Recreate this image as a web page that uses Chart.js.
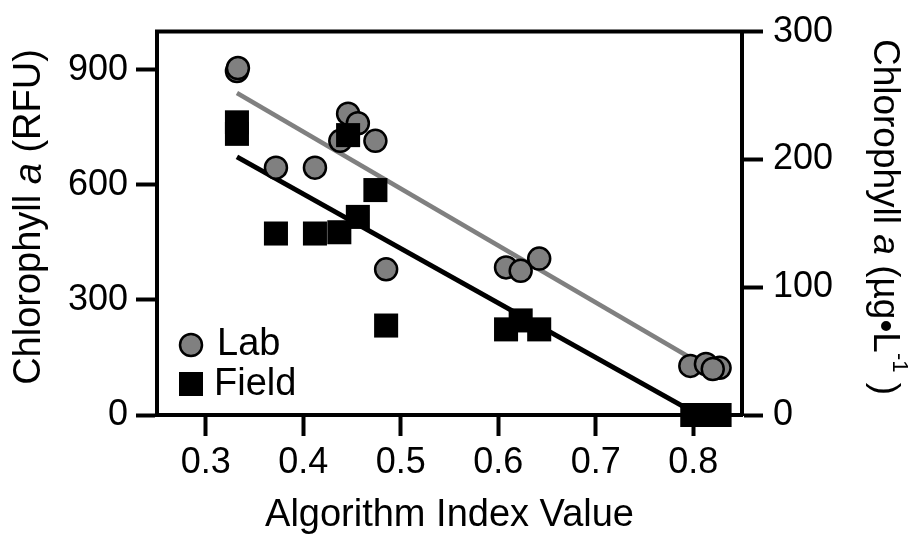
<!DOCTYPE html>
<html>
<head>
<meta charset="utf-8">
<script src="https://cdn.jsdelivr.net/npm/chart.js@4.4.1/dist/chart.umd.min.js"></script>
<style>
  html, body { margin: 0; padding: 0; background: #fff; }
  #wrap { width: 912px; height: 543px; }
</style>
</head>
<body>
<div id="wrap"><canvas id="chart"></canvas></div>
<script>
const FONT = "'Liberation Sans', Arial, sans-serif";
const TICK_FS = 36;
const TITLE_FS = 38;

// Lab samples, left axis (RFU)
const labX = [0.332, 0.333, 0.446, 0.456, 0.438, 0.474, 0.372, 0.412, 0.485, 0.608, 0.623, 0.642, 0.797, 0.813, 0.827, 0.820];
const labY = [897, 905, 786, 761, 715, 715, 645, 645, 380, 385, 376, 408, 128, 133, 123, 120];

// Field samples, right axis (ug/L)
const fieldX = [0.332, 0.332, 0.446, 0.474, 0.456, 0.372, 0.412, 0.437, 0.485, 0.608, 0.623, 0.642, 0.799, 0.813, 0.827];
const fieldY = [229, 220, 219, 176, 155, 142, 142, 143, 70, 67, 74, 67, 0, 0, 0];

// fit lines
const labFitX = [0.332, 0.794];
const labFitY = [840, 154];
const fieldFitX = [0.332, 0.796];
const fieldFitY = [202, 4];

const xTicks = [0.3, 0.4, 0.5, 0.6, 0.7, 0.8];
const leftTicks = [0, 300, 600, 900];
const rightTicks = [0, 100, 200, 300];

const pts = (xs, ys) => xs.map((x, i) => ({ x: x, y: ys[i] }));

function fontOf(p, size) {
  return (p.i ? 'italic ' : '') + (p.sup ? Math.round(size * 0.6) : size) + 'px ' + FONT;
}

// text with italic / superscript pieces
function drawRich(ctx, parts, cx, cy, angle, size) {
  ctx.save();
  ctx.translate(cx, cy);
  ctx.rotate(angle);
  let total = 0;
  const widths = parts.map(p => {
    ctx.font = fontOf(p, size);
    const w = ctx.measureText(p.t).width;
    total += w;
    return w;
  });
  let x = -total / 2;
  ctx.textBaseline = 'middle';
  ctx.textAlign = 'left';
  ctx.fillStyle = '#000';
  parts.forEach((p, i) => {
    ctx.font = fontOf(p, size);
    ctx.fillText(p.t, x, p.sup ? -size * 0.42 : 0);
    x += widths[i];
  });
  ctx.restore();
}

const extras = {
  id: 'extras',
  beforeDatasetsDraw(chart) {
    const ctx = chart.ctx, a = chart.chartArea;
    ctx.save();
    ctx.strokeStyle = '#000';
    ctx.lineWidth = 4;
    ctx.beginPath();
    ctx.moveTo(a.left - 2, a.top);
    ctx.lineTo(a.right + 2, a.top);
    ctx.stroke();
    ctx.restore();
  },
  afterDraw(chart) {
    const ctx = chart.ctx, a = chart.chartArea;
    drawRich(ctx, [{ t: 'Chlorophyll ' }, { t: 'a', i: true }, { t: ' (RFU)' }], 30, 217, -Math.PI / 2, TITLE_FS);
    drawRich(ctx, [{ t: 'Chlorophyll ' }, { t: 'a', i: true }, { t: ' (µg•L' }, { t: '-1', sup: true }, { t: ' )' }], 884, 217, Math.PI / 2, 37);
    drawRich(ctx, [{ t: 'Algorithm Index Value' }], (a.left + a.right) / 2, 516, 0, TITLE_FS);

    // legend inside the plot
    ctx.save();
    ctx.fillStyle = '#808080';
    ctx.strokeStyle = '#000';
    ctx.lineWidth = 2.5;
    ctx.beginPath();
    ctx.arc(191, 345, 11, 0, Math.PI * 2);
    ctx.fill();
    ctx.stroke();
    ctx.fillStyle = '#000';
    ctx.fillRect(179, 372, 24, 24);
    ctx.font = TITLE_FS + 'px ' + FONT;
    ctx.textBaseline = 'middle';
    ctx.fillText('Lab', 217, 345);
    ctx.fillText('Field', 214, 385);
    ctx.restore();
  }
};

const tickFont = { family: FONT, size: TICK_FS };

new Chart(document.getElementById('chart'), {
  type: 'scatter',
  data: {
    datasets: [
      {
        label: 'Field',
        data: pts(fieldX, fieldY),
        yAxisID: 'y2',
        pointStyle: 'rect',
        pointRadius: 17,
        backgroundColor: '#000',
        borderColor: '#000',
        borderWidth: 0,
        clip: false,
        order: 0
      },
      {
        label: 'Lab',
        data: pts(labX, labY),
        yAxisID: 'y',
        pointStyle: 'circle',
        pointRadius: 11,
        backgroundColor: '#808080',
        borderColor: '#000',
        borderWidth: 2.5,
        clip: false,
        order: 1
      },
      {
        type: 'line',
        label: 'Lab fit',
        data: pts(labFitX, labFitY),
        yAxisID: 'y',
        borderColor: '#808080',
        borderWidth: 4.5,
        pointRadius: 0,
        order: 2
      },
      {
        type: 'line',
        label: 'Field fit',
        data: pts(fieldFitX, fieldFitY),
        yAxisID: 'y2',
        borderColor: '#000',
        borderWidth: 5,
        pointRadius: 0,
        order: 3
      }
    ]
  },
  options: {
    responsive: true,
    maintainAspectRatio: false,
    animation: false,
    layout: { padding: { top: 25, left: 0, right: 0, bottom: 0 } },
    plugins: { legend: { display: false }, tooltip: { enabled: false } },
    scales: {
      x: {
        type: 'linear',
        min: 0.25,
        max: 0.85,
        afterBuildTicks: s => { s.ticks = xTicks.map(v => ({ value: v })); },
        afterFit: s => { s.height = 128; },
        ticks: { font: tickFont, color: '#000', padding: 5, callback: v => v.toFixed(1) },
        grid: { drawOnChartArea: false, tickLength: 21, tickWidth: 4, color: '#000' },
        border: { width: 4, color: '#000' }
      },
      y: {
        position: 'left',
        min: 0,
        max: 1000,
        afterBuildTicks: s => { s.ticks = leftTicks.map(v => ({ value: v })); },
        afterFit: s => { s.width = 157; },
        ticks: { font: tickFont, color: '#000', padding: 8 },
        grid: { drawOnChartArea: false, tickLength: 21, tickWidth: 4, color: '#000' },
        border: { width: 4, color: '#000' }
      },
      y2: {
        position: 'right',
        min: 0,
        max: 300,
        afterBuildTicks: s => { s.ticks = rightTicks.map(v => ({ value: v })); },
        afterFit: s => { s.width = 170; },
        ticks: { font: tickFont, color: '#000', padding: 10 },
        grid: { drawOnChartArea: false, tickLength: 21, tickWidth: 4, color: '#000' },
        border: { width: 4, color: '#000' }
      }
    }
  },
  plugins: [extras]
});
</script>
</body>
</html>
